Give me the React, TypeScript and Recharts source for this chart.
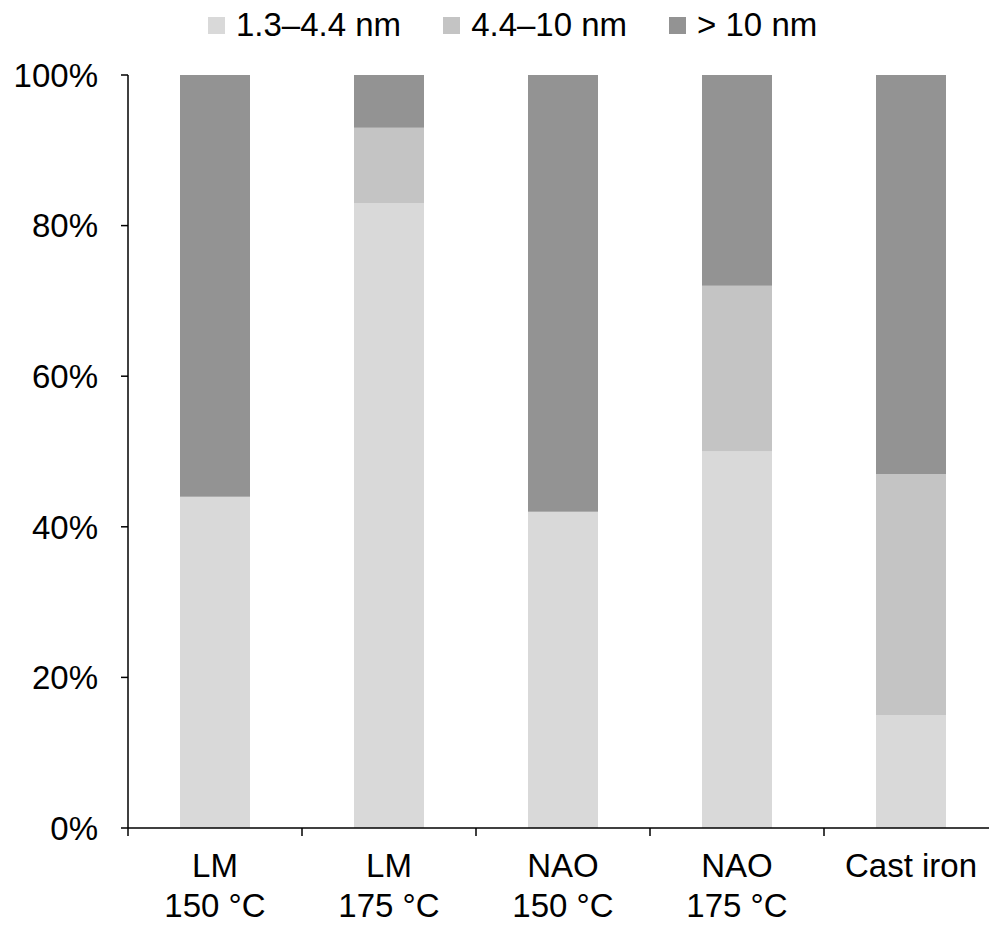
import { Bar, BarChart, Legend, XAxis, YAxis } from "recharts";

const FONT = "'Liberation Sans', Arial, sans-serif";

const SAMPLES = ["LM", "LM", "NAO", "NAO", "Cast iron"];
const TEMPS = ["150 °C", "175 °C", "150 °C", "175 °C", ""];

const SMALL = [44, 83, 42, 50, 15];
const MEDIUM = [0, 10, 0, 22, 32];
const LARGE = [56, 7, 58, 28, 53];

const Y_TICKS = [0, 20, 40, 60, 80, 100];

const SERIES = [
  { key: "small", name: "1.3–4.4 nm", color: "#d9d9d9" },
  { key: "medium", name: "4.4–10 nm", color: "#c4c4c4" },
  { key: "large", name: "> 10 nm", color: "#939393" },
];

const data = SAMPLES.map((s, i) => ({
  id: String(i),
  sample: s,
  temp: TEMPS[i],
  small: SMALL[i],
  medium: MEDIUM[i],
  large: LARGE[i],
}));

function CategoryTick(props: any) {
  const { x, y, payload, index } = props;
  const half = payload?.offset ?? 87;
  const row = data[index] ?? data[Number(payload?.value)];
  const last = index === data.length - 1;
  return (
    <g>
      <line x1={x - half} y1={y} x2={x - half} y2={y + 8} stroke="#000" strokeWidth={1.5} />
      {last && <line x1={x + half} y1={y} x2={x + half} y2={y + 8} stroke="#000" strokeWidth={1.5} />}
      <text x={x} y={y + 49} textAnchor="middle" fontSize={33} fontFamily={FONT} fill="#000">
        {row?.sample}
      </text>
      {row?.temp && (
        <text x={x} y={y + 89} textAnchor="middle" fontSize={33} fontFamily={FONT} fill="#000">
          {row.temp}
        </text>
      )}
    </g>
  );
}

function LegendBox() {
  return (
    <div
      style={{
        display: "flex",
        alignItems: "center",
        height: 50,
        paddingLeft: 208,
        fontFamily: FONT,
        fontSize: 33,
        color: "#000",
      }}
    >
      {SERIES.map((s) => (
        <div key={s.key} style={{ display: "flex", alignItems: "center", marginRight: 42 }}>
          <span style={{ width: 17, height: 17, background: s.color, marginRight: 11, display: "inline-block" }} />
          <span>{s.name}</span>
        </div>
      ))}
    </div>
  );
}

export default function App() {
  return (
    <div style={{ position: "absolute", left: 0, top: 0, width: 989, height: 926, overflow: "hidden", background: "#fff" }}>
      <BarChart
        width={1000}
        height={926}
        data={data}
        margin={{ top: 25, right: 2, bottom: 0, left: 0 }}
        barSize={70}
      >
        <Legend
          verticalAlign="top"
          align="left"
          content={() => <LegendBox />}
          wrapperStyle={{ top: 0, left: 0, width: 1000, height: 50 }}
        />
        <XAxis
          dataKey="id"
          height={98}
          tickSize={0}
          tickMargin={0}
          tickLine={false}
          axisLine={{ stroke: "#000", strokeWidth: 1.5 }}
          tick={<CategoryTick />}
          interval={0}
        />
        <YAxis
          width={128}
          domain={[0, 100]}
          ticks={Y_TICKS}
          tickFormatter={(v: number) => `${v}%`}
          tickSize={7}
          tickMargin={23}
          axisLine={{ stroke: "#000", strokeWidth: 1.5 }}
          tickLine={{ stroke: "#000", strokeWidth: 1.5 }}
          tick={{ fontSize: 33, fontFamily: FONT, fill: "#000" }}
          interval={0}
        />
        {SERIES.map((s) => (
          <Bar key={s.key} dataKey={s.key} name={s.name} stackId="a" fill={s.color} isAnimationActive={false} />
        ))}
      </BarChart>
    </div>
  );
}
